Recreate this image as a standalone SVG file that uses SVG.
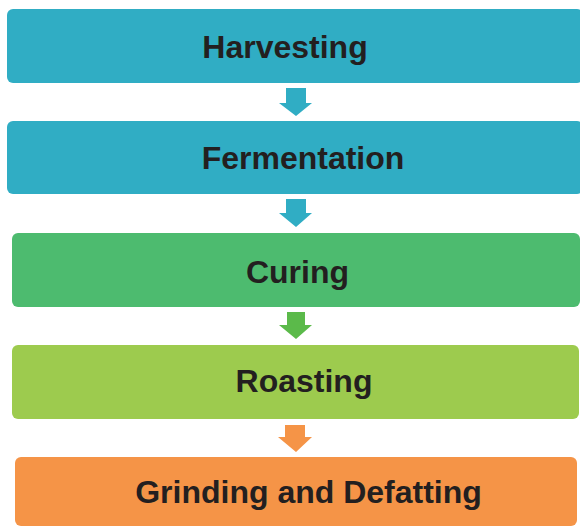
<svg xmlns="http://www.w3.org/2000/svg" width="580" height="528" viewBox="0 0 580 528">
<style>
.lbl{font-family:"Liberation Sans",Arial,sans-serif;font-weight:bold;font-size:32px;fill:#231F20;text-anchor:middle}
.teal{fill:#30ADC4}
.green{fill:#4DBB6F}
.lime{fill:#9DCB4E}
.orange{fill:#F59447}
</style>
<rect width="580" height="528" fill="#FFFFFF"/>
<g id="connectors">
<polygon class="teal" points="286,88 306,88 306,103 312,103 296,116 279,103 286,103"/>
<polygon class="teal" points="286,199 306,199 306,213 312,213 296,227 279,213 286,213"/>
<polygon fill="#5BBA4A" points="287,312 305,312 305,325 312,325 296,339 279,325 287,325"/>
<polygon class="orange" points="285,425 305,425 305,437 312,437 296,452 278,437 285,437"/>
</g>
<g id="harvesting">
<rect class="teal" x="7" y="9" width="576" height="74" rx="6"/>
<text class="lbl" x="285" y="57.5">Harvesting</text>
</g>
<g id="fermentation">
<rect class="teal" x="7" y="121" width="576" height="73" rx="6"/>
<text class="lbl" x="303" y="168.5">Fermentation</text>
</g>
<g id="curing">
<rect class="green" x="12" y="233" width="568" height="74" rx="6"/>
<text class="lbl" x="297.5" y="283">Curing</text>
</g>
<g id="roasting">
<rect class="lime" x="12" y="345" width="567" height="74" rx="6"/>
<text class="lbl" x="304" y="392">Roasting</text>
</g>
<g id="grinding">
<rect class="orange" x="15" y="457" width="562" height="69" rx="6"/>
<text class="lbl" x="308.5" y="503">Grinding and Defatting</text>
</g>
</svg>
